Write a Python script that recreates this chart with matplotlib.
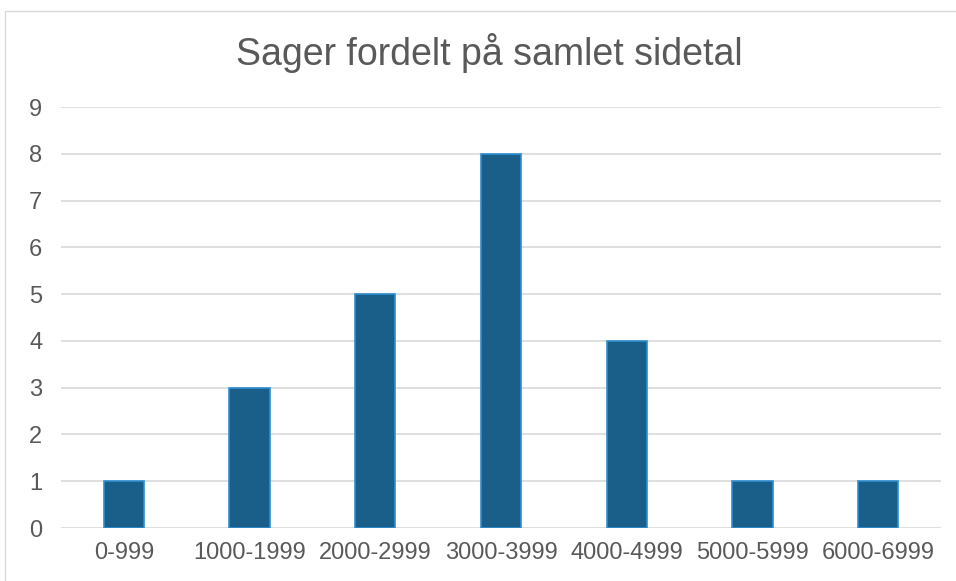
import matplotlib.pyplot as plt
from matplotlib.patches import Rectangle

categories = ["0-999", "1000-1999", "2000-2999", "3000-3999",
              "4000-4999", "5000-5999", "6000-6999"]
counts = [1, 3, 5, 8, 4, 1, 1]

plt.rcParams['font.family'] = ['Liberation Sans', 'DejaVu Sans']
text_col = '#595959'

fig = plt.figure(figsize=(9.56, 5.81), dpi=100)
ax = fig.add_axes([0.0638, 0.0912, 0.9205, 0.7246])

# chart frame
fig.patches.append(Rectangle((5 / 956, -0.01), 1.0, 1 - 11 / 581 + 0.01,
                             transform=fig.transFigure, fill=False,
                             edgecolor='#d9d9d9', linewidth=1))

x = range(len(categories))
ax.bar(x, counts, width=0.32, color='#1a5e8a', edgecolor='#2e8fd0',
       linewidth=1.2, zorder=3)

ax.set_xlim(-0.5, len(categories) - 0.5)
ax.set_ylim(0, 9)
ax.set_yticks(range(10))
ax.set_xticks(list(x))
ax.set_xticklabels(categories)
ax.grid(axis='y', color='#d9d9d9', linewidth=1.2, zorder=0)
for s in ax.spines.values():
    s.set_visible(False)
ax.tick_params(length=0, labelsize=17, colors=text_col)
ax.tick_params(axis='x', pad=10)
ax.tick_params(axis='y', pad=23)
for lbl in ax.get_yticklabels():
    lbl.set_horizontalalignment('left')

fig.text(0.5115, 0.908, "Sager fordelt på samlet sidetal", ha='center',
         va='center', fontsize=27, color=text_col)

fig.savefig("out.png", dpi=100)
